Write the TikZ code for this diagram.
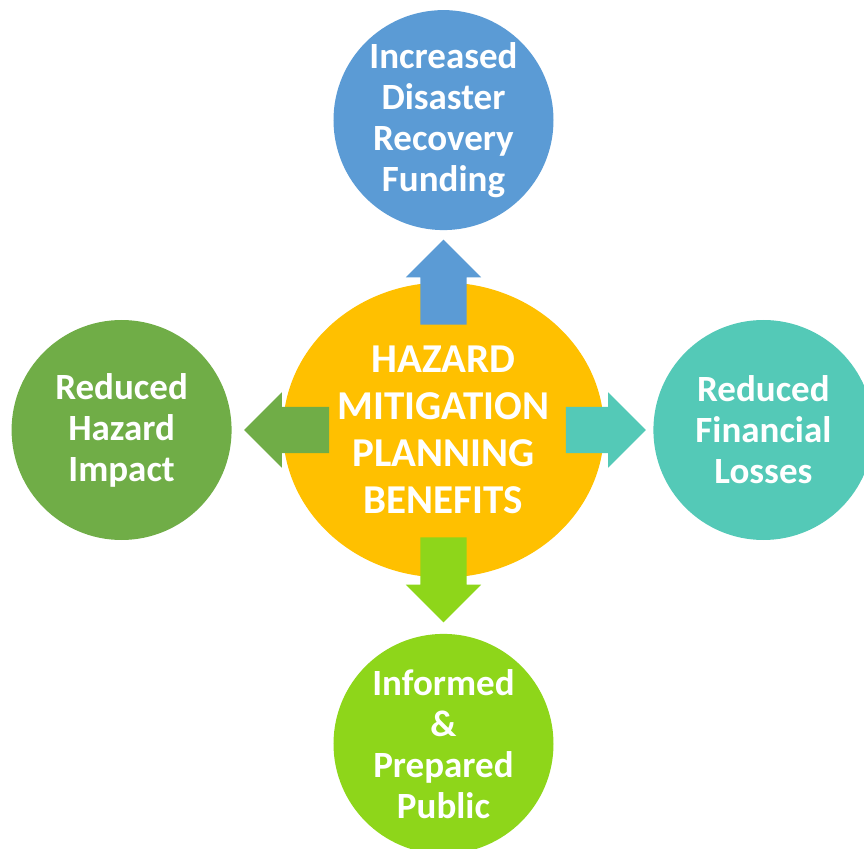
\documentclass[tikz,border=0pt]{standalone}
\usepackage{fontspec}
\setmainfont{Carlito}
\usetikzlibrary{shapes.geometric,shapes.arrows,positioning}

\definecolor{hubyellow}{HTML}{FFC000}
\definecolor{fundblue}{HTML}{5B9BD5}
\definecolor{impactgreen}{HTML}{70AD47}
\definecolor{lossteal}{HTML}{54C9B7}
\definecolor{publiclime}{HTML}{8ED61A}

\begin{document}
\begin{tikzpicture}[
    x=1pt, y=1pt,
    font=\bfseries\fontsize{37pt}{41pt}\selectfont,
    node distance = 52pt,
    benefit/.style={circle, minimum size=220pt, inner sep=0pt,
                    align=center, text=white},
    hubnode/.style={ellipse, fill=hubyellow, inner sep=0pt,
                    minimum width=321pt, minimum height=295pt,
                    align=center, text=white,
                    font=\bfseries\fontsize{41pt}{47pt}\selectfont},
    blockarrow/.style={single arrow, inner xsep=0pt, inner ysep=23pt,
                       minimum height=85pt,
                       single arrow head extend=14.5pt}
]
\clip (-443.5,-418) rectangle (420.5,430);

%–––– CENTRE ––––––––––––––––––––––––––––––––––––––––
\node (hub) [hubnode] {HAZARD\\MITIGATION\\PLANNING\\BENEFITS};

%–––– BENEFITS –––––––––––––––––––––––––––––––––––––
\node (fund)   [benefit, fill=fundblue,    above=of hub]
      {Increased\\Disaster\\Recovery\\Funding};
\node (impact) [benefit, fill=impactgreen, left=51pt of hub]
      {Reduced\\Hazard\\Impact};
\node (losses) [benefit, fill=lossteal,    right=49pt of hub]
      {Reduced\\Financial\\Losses};
\node (public) [benefit, fill=publiclime,  below=56pt of hub]
      {Informed\\\&\\Prepared\\Public};

%–––– BLOCK ARROWS –––––––––––––––––––––––––––––––––
\node (upArrow)    [blockarrow, fill=fundblue,    below=9pt of fund,    anchor=tip, rotate=90]  {};
\node (leftArrow)  [blockarrow, fill=impactgreen, right=12pt of impact, anchor=tip, rotate=180] {};
\node (rightArrow) [blockarrow, fill=lossteal,    left=7pt of losses,   anchor=tip,
                    minimum height=80pt] {};
\node (downArrow)  [blockarrow, fill=publiclime,  above=11pt of public, anchor=tip, rotate=-90] {};
\end{tikzpicture}
\end{document}
